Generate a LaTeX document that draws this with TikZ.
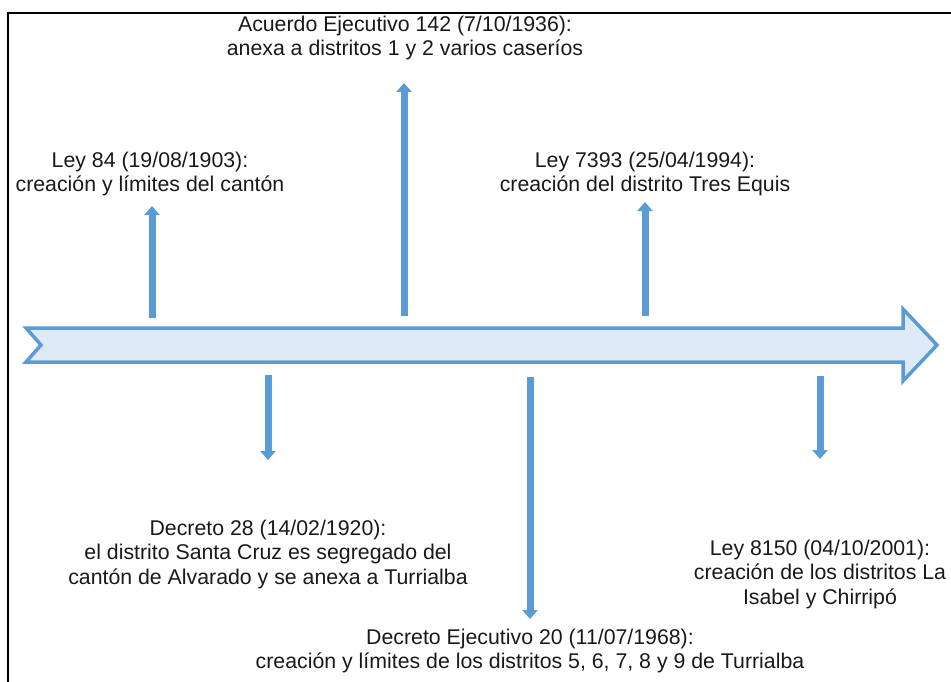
\documentclass[tikz,border=0pt]{standalone}
\usepackage{fontspec}
\setmainfont{Liberation Sans}
\usetikzlibrary{arrows.meta}
\definecolor{ablue}{RGB}{91,155,213}
\definecolor{afill}{RGB}{222,235,247}
\definecolor{txt}{RGB}{25,25,25}
\tikzset{
  lbl/.style={align=center,text=txt,font=\fontsize{21.3}{24.5}\selectfont,inner sep=0pt},
  varrow/.style={draw=ablue,line width=7pt,-{Triangle[width=15pt,length=9pt]}},
  frame/.style={draw=black,line width=2pt}
}
\begin{document}
\begin{tikzpicture}[x=1pt,y=-1pt]
\useasboundingbox (0,0) rectangle (951,682);
\draw[frame] (8,682) -- (8,13) -- (951,13);
% main timeline arrow
\draw[draw=ablue,fill=afill,line width=3.5pt,line join=miter]
  (26,328) -- (903,328) -- (903,309) -- (937,345) -- (903,381) -- (903,362) -- (26,362) -- (41,345) -- cycle;
% labels
\node[lbl] (l1) at (150,174) {Ley 84 (19/08/1903):\\creación y límites del cantón};
\node[lbl] (l2) at (405,38) {Acuerdo Ejecutivo 142 (7/10/1936):\\anexa a distritos 1 y 2 varios caseríos};
\node[lbl] (l3) at (645,174) {Ley 7393 (25/04/1994):\\creación del distrito Tres Equis};
\node[lbl] (l4) at (268,554) {Decreto 28 (14/02/1920):\\el distrito Santa Cruz es segregado del\\cantón de Alvarado y se anexa a Turrialba};
\node[lbl] (l5) at (530,651) {Decreto Ejecutivo 20 (11/07/1968):\\creación y límites de los distritos 5, 6, 7, 8 y 9 de Turrialba};
\node[lbl] (l6) at (820,574) {Ley 8150 (04/10/2001):\\creación de los distritos La\\Isabel y Chirripó};
% arrow endpoints
\coordinate (a1s) at (152,318); \coordinate (a1e) at (152,206);
\coordinate (a2s) at (404,316); \coordinate (a2e) at (404,83);
\coordinate (a3s) at (645,316); \coordinate (a3e) at (645,202);
\coordinate (b1s) at (268,375); \coordinate (b1e) at (268,460);
\coordinate (b2s) at (530,377); \coordinate (b2e) at (530,619);
\coordinate (b3s) at (820,376); \coordinate (b3e) at (820,459);
\draw[varrow] (a1s) -- (a1e);
\draw[varrow] (a2s) -- (a2e);
\draw[varrow] (a3s) -- (a3e);
\draw[varrow] (b1s) -- (b1e);
\draw[varrow] (b2s) -- (b2e);
\draw[varrow] (b3s) -- (b3e);
\end{tikzpicture}
\end{document}
